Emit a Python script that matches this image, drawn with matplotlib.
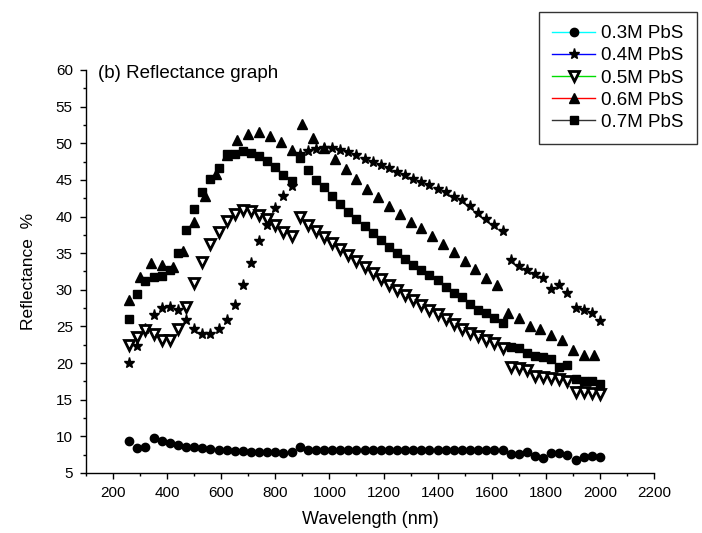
import numpy as np
import matplotlib
matplotlib.use('Agg')
import matplotlib.pyplot as plt
from matplotlib.lines import Line2D

plt.rcParams['font.family'] = ['Liberation Sans', 'DejaVu Sans']

# wavelength grids (nm)
wl_30 = np.arange(260, 2001, 30)   # 0.3, 0.4, 0.5, 0.7 M
wl_40 = np.arange(260, 1981, 40)   # 0.6 M

r_03 = [9.3, 8.4, 8.6, 9.8, 9.4, 9.1, 8.8, 8.6, 8.5, 8.4, 8.3, 8.2, 8.1, 8.0, 7.95,
        7.9, 7.9, 7.85, 7.8, 7.75, 7.8, 8.5, 8.1, 8.2, 8.2, 8.2, 8.2, 8.15, 8.15, 8.15,
        8.15, 8.15, 8.15, 8.15, 8.15, 8.15, 8.15, 8.2, 8.2, 8.2, 8.2, 8.2, 8.2, 8.2, 8.2,
        8.2, 8.2, 7.6, 7.6, 7.8, 7.3, 7.0, 7.7, 7.7, 7.5, 6.8, 7.2, 7.3, 7.2]

r_04 = [20.0, 22.3, 24.7, 26.6, 27.5, 27.6, 27.2, 25.9, 24.6, 23.9, 23.9, 24.6, 25.9,
        27.9, 30.6, 33.7, 36.6, 38.8, 41.1, 42.8, 44.1, 48.6, 49.0, 49.2, 49.3, 49.3,
        49.1, 48.8, 48.4, 47.9, 47.5, 47.0, 46.6, 46.1, 45.7, 45.1, 44.7, 44.3, 43.8,
        43.4, 42.7, 42.2, 41.4, 40.5, 39.7, 38.8, 38.0, 34.1, 33.3, 32.7, 32.1, 31.6,
        30.1, 30.6, 29.5, 27.5, 27.2, 26.9, 25.8]

r_05 = [22.5, 23.5, 24.5, 24.0, 23.1, 23.1, 24.7, 27.7, 30.9, 33.8, 36.2, 37.9, 39.4,
        40.4, 40.9, 40.8, 40.2, 39.6, 38.8, 37.9, 37.4, 39.9, 38.8, 38.0, 37.2, 36.4,
        35.6, 34.7, 33.9, 33.1, 32.3, 31.5, 30.7, 30.0, 29.3, 28.6, 27.9, 27.2, 26.7,
        26.0, 25.4, 24.7, 24.1, 23.7, 23.1, 22.7, 22.1, 19.5, 19.3, 19.1, 18.2, 18.1,
        17.9, 17.8, 17.5, 16.0, 16.0, 15.9, 15.8]

r_06 = [28.6, 31.8, 33.6, 33.4, 33.1, 35.3, 39.2, 42.8, 45.8, 48.4, 50.4, 51.3, 51.6,
        51.0, 50.2, 49.1, 52.6, 50.7, 49.3, 47.9, 46.5, 45.1, 43.8, 42.6, 41.4, 40.3,
        39.3, 38.4, 37.3, 36.2, 35.1, 33.9, 32.8, 31.6, 30.7, 26.9, 26.1, 25.0, 24.6,
        23.8, 23.2, 21.8, 21.1, 21.1]

r_07 = [26.0, 29.4, 31.2, 31.7, 31.9, 32.7, 35.0, 38.1, 41.0, 43.4, 45.1, 46.6, 48.5,
        48.6, 49.0, 48.7, 48.2, 47.6, 46.7, 45.7, 44.9, 48.0, 46.3, 45.0, 44.0, 42.8,
        41.7, 40.6, 39.7, 38.7, 37.7, 36.8, 35.9, 35.0, 34.2, 33.4, 32.7, 32.0, 31.3,
        30.4, 29.6, 29.0, 28.1, 27.3, 26.8, 26.1, 25.5, 22.2, 22.0, 21.4, 21.0, 20.8,
        20.5, 19.4, 19.7, 17.8, 17.6, 17.5, 17.2]

labels = ['0.3M PbS', '0.4M PbS', '0.5M PbS', '0.6M PbS', '0.7M PbS']
line_colors = ['#00ffff', '#0000ff', '#00dd00', '#ff0000', '#333333']

fig = plt.figure(figsize=(7.02, 5.33), dpi=100)
ax = fig.add_axes([0.1225, 0.1126, 0.8091, 0.7561])

ax.plot(wl_30, r_03, ls='none', marker='o', ms=6, color='k')
ax.plot(wl_30, r_04, ls='none', marker='*', ms=8, color='k')
ax.plot(wl_30, r_05, ls='none', marker='v', ms=6.5, mfc='white', mec='k', mew=2)
ax.plot(wl_40, r_06, ls='none', marker='^', ms=7, color='k')
ax.plot(wl_30, r_07, ls='none', marker='s', ms=5.5, color='k')

ax.set_xlim(100, 2200)
ax.set_ylim(5, 60)
ax.set_xticks(np.arange(200, 2201, 200))
ax.set_xticks(np.arange(100, 2201, 100), minor=True)
ax.set_yticks(np.arange(5, 61, 5))
ax.set_yticks(np.arange(5, 61, 2.5), minor=True)
ax.tick_params(which='major', length=4.5, width=1, labelsize=11, pad=5)
ax.tick_params(which='minor', length=2.5, width=1)
ax.spines['top'].set_visible(False)
ax.spines['right'].set_visible(False)
for s in ['left', 'bottom']:
    ax.spines[s].set_linewidth(1)

ax.set_xlabel('Wavelength (nm)', fontsize=13, labelpad=8)
ax.set_ylabel('Reflectance  %', fontsize=12.5, labelpad=14)
ax.text(0.021, 0.98, '(b) Reflectance graph', transform=ax.transAxes,
        fontsize=13.5, va='baseline', ha='left')

handles = [
    Line2D([], [], color=line_colors[0], lw=1, marker='o', ms=6, mfc='k', mec='k'),
    Line2D([], [], color=line_colors[1], lw=1, marker='*', ms=8, mfc='k', mec='k'),
    Line2D([], [], color=line_colors[2], lw=1, marker='v', ms=6.5, mfc='white', mec='k', mew=2),
    Line2D([], [], color=line_colors[3], lw=1, marker='^', ms=7, mfc='k', mec='k'),
    Line2D([], [], color=line_colors[4], lw=1, marker='s', ms=5.5, mfc='k', mec='k'),
]
leg = fig.legend(handles, labels, loc='upper left', bbox_to_anchor=(0.768, 0.9775),
                 fontsize=13.5, frameon=True, fancybox=False, edgecolor='k',
                 handlelength=2.3, handletextpad=0.3, borderaxespad=0,
                 labelspacing=0.27, borderpad=0.7)
leg.get_frame().set_linewidth(1)

fig.savefig('out.png', dpi=100)
